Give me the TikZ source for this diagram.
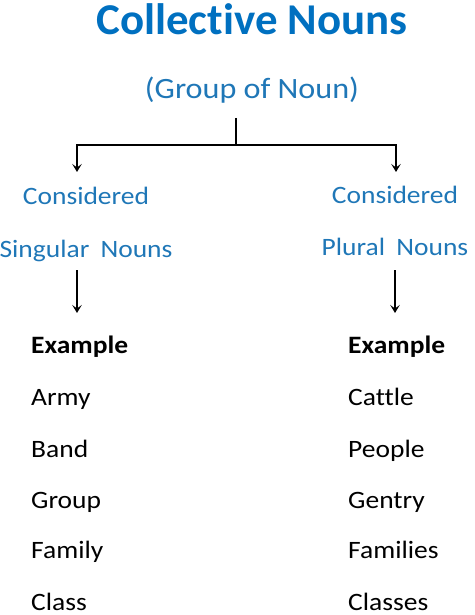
\documentclass[tikz,border=0pt]{standalone}
\usepackage{fontspec}
\setmainfont{Carlito}[Ligatures={NoCommon}]
\usetikzlibrary{arrows.meta}
\definecolor{titleblue}{HTML}{0070C0}
\definecolor{subblue}{HTML}{1F77B7}
\tikzset{
  title/.style={font=\fontsize{44}{50}\selectfont\bfseries, text=titleblue, anchor=base, inner sep=0pt, xscale=1.02},
  subtitle/.style={font=\fontsize{29.5}{36}\selectfont, text=subblue, anchor=base, inner sep=0pt, xscale=1.09},
  cat/.style={font=\fontsize{25}{30}\selectfont, text=subblue, anchor=base, inner sep=0pt, xscale=1.1},
  head/.style={font=\fontsize{25}{30}\selectfont\bfseries, text=black, anchor=base west, inner sep=0pt, xscale=1.1},
  item/.style={font=\fontsize{25}{30}\selectfont, text=black, anchor=base west, inner sep=0pt, xscale=1.1},
  conn/.style={line width=1.9pt, black},
  arr/.style={conn, -{Stealth[length=8pt,width=9.5pt,inset=3.5pt]}}
}
\begin{document}
\begin{tikzpicture}[x=1pt,y=1pt]
\useasboundingbox (0,0) rectangle (474,-615);
\node[title] (t) at (252,-35) {Collective Nouns};
\node[subtitle] (g) at (252,-99) {(Group of Noun)};
\node[cat] (lc) at (86,-204) {Considered};
\node[cat] (ls) at (86,-257) {Singular\hspace{4.5pt} Nouns};
\node[cat] (rc) at (395,-203) {Considered};
\node[cat] (rp) at (395,-255) {Plural\hspace{4.5pt} Nouns};
\coordinate (top) at (236,-118);
\coordinate (mid) at (236,-145);
\coordinate (lt) at (77,-145);
\coordinate (rt) at (396,-145);
\coordinate (la) at (77,-172);
\coordinate (ra) at (396,-172);
\coordinate (lb1) at (77,-270);
\coordinate (lb2) at (77,-313);
\coordinate (rb1) at (395,-270);
\coordinate (rb2) at (395,-313);
\draw[conn] (top) -- (mid);
\draw[arr] (mid) -- (lt) -- (la);
\draw[arr] (mid) -- (rt) -- (ra);
\draw[arr] (lb1) -- (lb2);
\draw[arr] (rb1) -- (rb2);
\node[head] (le) at (31,-353) {Example};
\node[item] (l1) at (31,-405) {Army};
\node[item] (l2) at (31,-457) {Band};
\node[item] (l3) at (31,-508) {Group};
\node[item] (l4) at (31,-558) {Family};
\node[item] (l5) at (31,-610) {Class};
\node[head] (re) at (348,-353) {Example};
\node[item] (r1) at (348,-405) {Cattle};
\node[item] (r2) at (348,-457) {People};
\node[item] (r3) at (348,-508) {Gentry};
\node[item] (r4) at (348,-558) {Families};
\node[item] (r5) at (348,-610) {Classes};
\end{tikzpicture}
\end{document}
